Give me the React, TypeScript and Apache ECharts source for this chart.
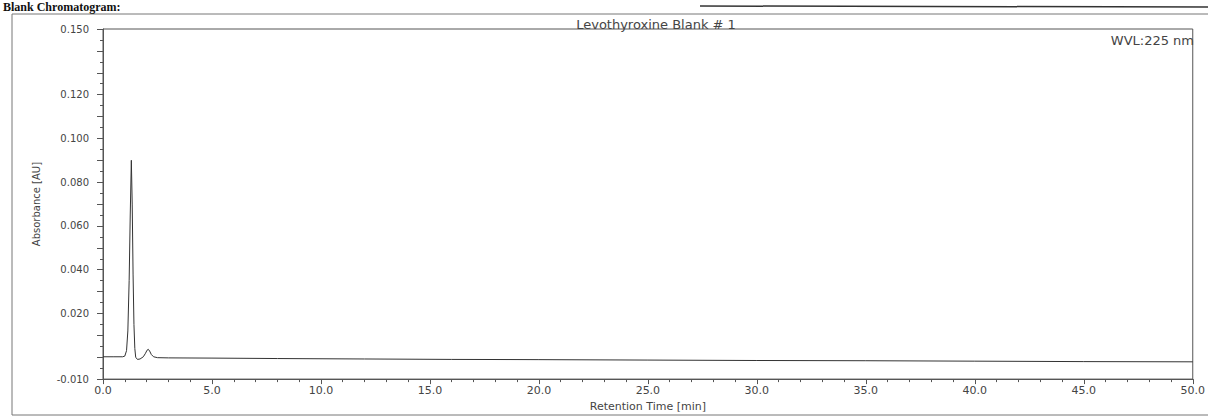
import React, { useEffect, useRef } from "react";
import * as echarts from "echarts";

const titleText = "Levothyroxine Blank # 1";
const wavelengthText = "WVL:225 nm";
const headerText = "Blank Chromatogram:";
const xAxisName = "Retention Time [min]";
const yAxisName = "Absorbance [AU]";

const retentionTimes = [
  0, 0.5, 0.9, 1.0, 1.08, 1.14, 1.2, 1.25, 1.3, 1.34, 1.38, 1.42, 1.46, 1.5,
  1.58, 1.7, 1.85, 1.95, 2.02, 2.08, 2.14, 2.22, 2.32, 2.5, 3, 5, 8, 12, 16, 20,
  25, 30, 35, 40, 45, 50,
];
const absorbance = [
  0.0002, 0.0002, 0.0002, 0.0005, 0.003, 0.012, 0.035, 0.065, 0.09, 0.07,
  0.038, 0.015, 0.004, 0.0, -0.001, -0.0008, 0.0002, 0.0018, 0.0032, 0.0036,
  0.0028, 0.0012, 0.0002, -0.0002, -0.0003, -0.0004, -0.0006, -0.0008, -0.001,
  -0.0011, -0.0013, -0.0015, -0.0016, -0.0018, -0.002, -0.0021,
];
const yLabelValues = [-10, 20, 40, 60, 80, 100, 120, 150]; // in 0.001 AU

export default function App() {
  const ref = useRef<HTMLDivElement>(null);
  useEffect(() => {
    document.body.style.margin = "0";
    if (!ref.current) return;
    const chart = echarts.init(ref.current, null, { renderer: "svg" });
    const axisColor = "#555";
    const textColor = "#444";
    const font = "DejaVu Sans";
    chart.setOption({
      animation: false,
      backgroundColor: "#fff",
      grid: {
        left: 103,
        right: 13,
        top: 29,
        bottom: 29,
        show: true,
        borderColor: axisColor,
        borderWidth: 1,
      },
      title: {
        text: titleText,
        left: 651,
        top: 13,
        textAlign: "center",
        textStyle: {
          fontFamily: font,
          fontSize: 13,
          fontWeight: "normal",
          color: textColor,
        },
      },
      graphic: [
        {
          type: "rect",
          shape: { x: 12, y: 14, width: 1210, height: 401 },
          style: { fill: "none", stroke: "#777", lineWidth: 1 },
          silent: true,
        },
        {
          type: "line",
          shape: { x1: 700, y1: 6, x2: 1208, y2: 7 },
          style: { stroke: "#333", lineWidth: 1.5 },
          silent: true,
        },
        {
          type: "text",
          x: 3,
          y: 1,
          style: {
            text: headerText,
            font: "bold 12px 'Liberation Serif'",
            fill: "#111",
            align: "left",
            verticalAlign: "top",
          },
          silent: true,
        },
        {
          type: "text",
          x: 1194,
          y: 40,
          style: {
            text: wavelengthText,
            font: "13px 'DejaVu Sans'",
            fill: textColor,
            align: "right",
            verticalAlign: "middle",
          },
          silent: true,
        },
      ],
      xAxis: {
        type: "value",
        min: 0,
        max: 50,
        interval: 5,
        name: xAxisName,
        nameLocation: "middle",
        nameGap: 20,
        nameTextStyle: { fontFamily: font, fontSize: 11, color: textColor },
        axisLine: { show: true, onZero: false, lineStyle: { color: axisColor } },
        axisTick: { show: true, length: 5, lineStyle: { color: axisColor } },
        minorTick: {
          show: true,
          splitNumber: 5,
          length: 3,
          lineStyle: { color: axisColor },
        },
        splitLine: { show: false },
        axisLabel: {
          fontFamily: font,
          fontSize: 11,
          color: textColor,
          margin: 6,
          formatter: (v: number) => v.toFixed(1),
        },
      },
      yAxis: {
        type: "value",
        min: -0.01,
        max: 0.15,
        interval: 0.01,
        name: yAxisName,
        nameLocation: "middle",
        nameGap: 62,
        nameRotate: 90,
        nameTextStyle: { fontFamily: font, fontSize: 10, color: textColor },
        axisLine: { show: true, lineStyle: { color: axisColor } },
        axisTick: { show: true, length: 6, lineStyle: { color: axisColor } },
        minorTick: {
          show: true,
          splitNumber: 2,
          length: 3,
          lineStyle: { color: axisColor },
        },
        splitLine: { show: false },
        axisLabel: {
          fontFamily: font,
          fontSize: 10,
          color: textColor,
          margin: 14,
          formatter: (v: number) => {
            const m = Math.round(v * 1000);
            return yLabelValues.indexOf(m) >= 0 ? (m / 1000).toFixed(3) : "";
          },
        },
      },
      series: [
        {
          type: "line",
          data: retentionTimes.map((t, i) => [t, absorbance[i]]),
          showSymbol: false,
          lineStyle: { color: "#333", width: 1 },
          silent: true,
        },
      ],
    });
    return () => chart.dispose();
  }, []);
  return <div ref={ref} style={{ width: 1208, height: 417 }} />;
}
